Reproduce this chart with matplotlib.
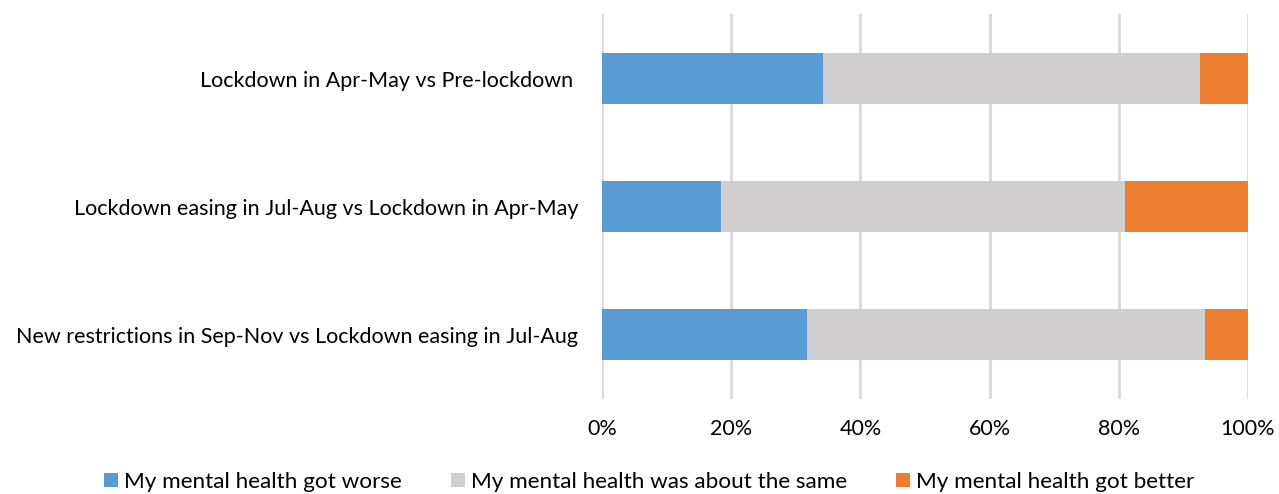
import matplotlib
matplotlib.use("Agg")
import matplotlib.pyplot as plt
from matplotlib.ticker import FuncFormatter

categories = [
    "Lockdown in Apr-May vs Pre-lockdown ",
    "Lockdown easing in Jul-Aug vs Lockdown in Apr-May",
    "New restrictions in Sep-Nov vs Lockdown easing in Jul-Aug",
]
worse = [34.2, 18.4, 31.7]
same = [58.4, 62.6, 61.7]
better = [7.4, 19.0, 6.6]
series_names = [
    "My mental health got worse",
    "My mental health was about the same",
    "My mental health got better",
]
colors = ["#5B9BD5", "#D0CECE", "#ED7D31"]
xticks = [0, 20, 40, 60, 80, 100]

plt.rcParams['font.family'] = ['Lato', 'DejaVu Sans']
FS = 15.5

fig = plt.figure(figsize=(12.79, 4.94), dpi=100)
ax = fig.add_axes([602/1279, 1-398.5/494, (1248-602)/1279, 384/494])

ypos = list(range(len(categories)))
left = [0]*len(categories)
for vals, name, c in zip([worse, same, better], series_names, colors):
    ax.barh(ypos, vals, left=left, height=0.4, color=c, label=name, zorder=3)
    left = [l+v for l, v in zip(left, vals)]

ax.set_ylim(2.5, -0.5)
ax.set_xlim(0, 100)
ax.set_yticks(ypos)
ax.set_yticklabels(categories, fontsize=FS, color="#000000")
ax.set_xticks(xticks)
ax.xaxis.set_major_formatter(FuncFormatter(lambda v, p: f"{int(v)}%"))
ax.tick_params(axis='x', labelsize=FS, length=0, pad=15)
ax.tick_params(axis='y', length=0, pad=17)
ax.grid(axis='x', color="#D9D9D9", linewidth=2, zorder=0)
for s in ax.spines.values():
    s.set_visible(False)

handles, labels = ax.get_legend_handles_labels()
fig.legend(handles, labels, loc='center', bbox_to_anchor=(649/1279, 1-482/494), ncol=3,
           frameon=False, fontsize=16.2, handlelength=0.62, handleheight=0.62,
           handletextpad=0.27, columnspacing=2.18, borderpad=0)

fig.savefig("out.png", dpi=100)
